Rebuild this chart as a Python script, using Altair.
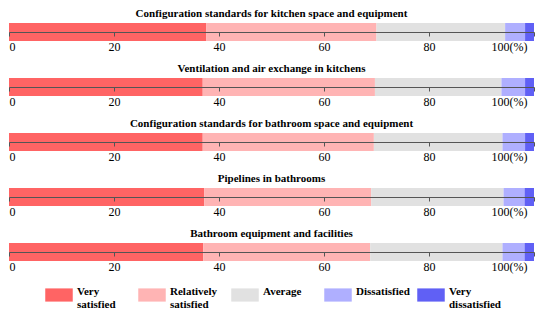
import altair as alt
import pandas as pd

questions = [
    "Configuration standards for kitchen space and equipment",
    "Ventilation and air exchange in kitchens",
    "Configuration standards for bathroom space and equipment",
    "Pipelines in bathrooms",
    "Bathroom equipment and facilities",
]
categories = ["Very satisfied", "Relatively satisfied", "Average", "Dissatisfied", "Very dissatisfied"]
colors = ["#FF6464", "#FFB4B4", "#E1E1E1", "#AFAFFF", "#6060F5"]

very_satisfied = [37.6, 36.9, 36.9, 37.2, 37.0]
relatively_satisfied = [32.4, 32.8, 32.6, 31.8, 31.8]
average = [24.5, 24.1, 24.5, 25.2, 25.2]
dissatisfied = [3.8, 4.5, 4.3, 4.0, 4.2]
very_dissatisfied = [1.7, 1.7, 1.7, 1.8, 1.8]

tick_values = [0, 20, 40, 60, 80, 100]

series = [very_satisfied, relatively_satisfied, average, dissatisfied, very_dissatisfied]
rows = []
for qi, q in enumerate(questions):
    start = 0.0
    for ci, cat in enumerate(categories):
        v = series[ci][qi]
        rows.append({"question": q, "category": cat, "order": ci, "start": start, "end": start + v})
        start += v
df = pd.DataFrame(rows)

H = 18
FONT = "Liberation Serif, Times New Roman, serif"

legend = alt.Legend(
    title=None, orient="none", legendX=36, legendY=258, direction="horizontal", columns=5,
    symbolType="M-1,-0.48H1V0.48H-1Z", symbolSize=756, symbolStrokeWidth=0, symbolOpacity=1,
    labelFont=FONT, labelFontSize=11, labelFontWeight="bold", labelColor="black",
    labelBaseline="alphabetic",
    labelExpr="length(split(datum.label, ' ')) > 1 ? split(datum.label, ' ') : [datum.label, '']",
    gridAlign="all", columnPadding=7, labelLimit=200, labelOffset=4,
)

panels = []
for q in questions:
    c = alt.Chart(df).transform_filter(alt.datum.question == q).mark_rect().encode(
        x=alt.X("start:Q", scale=alt.Scale(domain=[0, 100], nice=False),
                axis=alt.Axis(values=tick_values, offset=-H / 2, zindex=1, tickSize=4, labelPadding=5,
                              labelFont=FONT, labelFontSize=12, labelColor="black",
                              domainColor="#555555", tickColor="#555555", grid=False, title=None,
                              labelExpr="datum.value == 100 ? '100(%)' : datum.label",
                              labelOffset={"condition": {"test": "datum.value === 100", "value": -7}, "value": 0})),
        x2="end:Q",
        y=alt.value(0),
        y2=alt.value(H),
        color=alt.Color("category:N", scale=alt.Scale(domain=categories, range=colors), legend=legend),
    ).properties(
        width=525, height=H,
        title=alt.TitleParams(text=q, font=FONT, fontSize=11, fontWeight="bold", anchor="middle",
                              offset=4, color="black"),
    )
    panels.append(c)

chart = alt.vconcat(*panels, spacing=11).properties(
    padding={"left": 0, "top": 0, "right": 0, "bottom": 0}
).configure_view(stroke=None)

chart.save("out.html", embed_options={"renderer": "svg", "actions": False})
